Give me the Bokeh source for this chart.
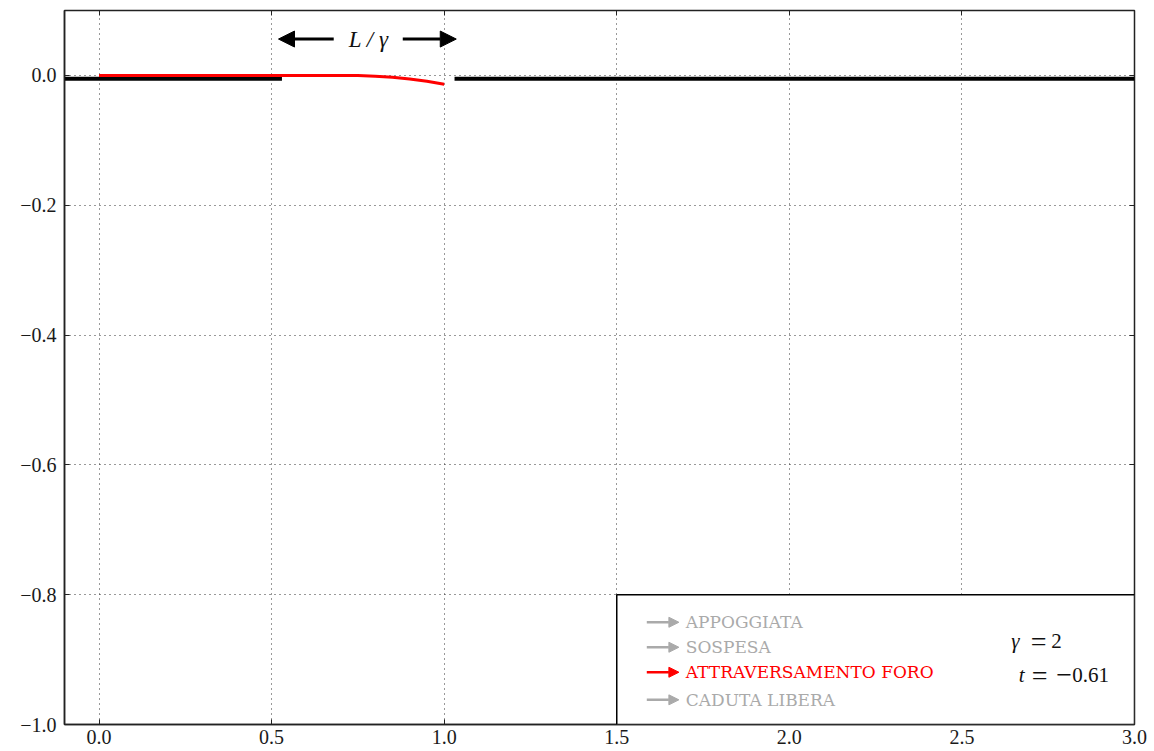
from bokeh.plotting import figure
from bokeh.models import (Range1d, LinearAxis, FixedTicker, Arrow, NormalHead,
                          BoxAnnotation, Label)
from bokeh.embed import file_html
from bokeh.resources import INLINE

# --- data -------------------------------------------------------------
# ground (black) segments either side of the hole
ground_left_x = [-0.1, 0.53]
ground_left_y = [-0.005, -0.005]
ground_right_x = [1.03, 3.0]
ground_right_y = [-0.005, -0.005]

# chain profile (red)
chain_x = [0.0, 0.5, 0.6, 0.7, 0.75, 0.8, 0.85, 0.9, 0.95, 1.0]
chain_y = [0.0, 0.0, 0.0, 0.0, -0.0003, -0.0013, -0.003, -0.0056, -0.009, -0.0135]

x_ticks = [0.0, 0.5, 1.0, 1.5, 2.0, 2.5, 3.0]
x_tick_labels = ["0.0", "0.5", "1.0", "1.5", "2.0", "2.5", "3.0"]
y_ticks = [0.0, -0.2, -0.4, -0.6, -0.8, -1.0]
y_tick_labels = ["0.0", "\u22120.2", "\u22120.4", "\u22120.6", "\u22120.8", "\u22121.0"]

phases = ["APPOGGIATA", "SOSPESA", "ATTRAVERSAMENTO FORO", "CADUTA LIBERA"]
active_phase = 2
gamma_value = 2
t_value = -0.61

FONT = "Liberation Serif"
WIDE_FONT = "DejaVu Serif"
INK = "#111111"

p = figure(width=1154, height=751, output_backend="svg", toolbar_location=None,
           x_range=Range1d(-0.1, 3.0), y_range=Range1d(-1.0, 0.1),
           min_border_left=64, min_border_right=20, min_border_top=10,
           min_border_bottom=27, background_fill_color="white",
           border_fill_color="white")

p.outline_line_color = "#222222"
p.outline_line_width = 1.5

for ax, ticks, labels in ((p.xaxis[0], x_ticks, x_tick_labels),
                          (p.yaxis[0], y_ticks, y_tick_labels)):
    ax.ticker = FixedTicker(ticks=ticks)
    ax.major_label_overrides = dict(zip(ticks, labels))
    ax.major_tick_in = 5
    ax.major_tick_out = 0
    ax.minor_tick_in = 0
    ax.minor_tick_out = 0
    ax.major_tick_line_color = "#222222"
    ax.axis_line_color = "#222222"
    ax.axis_line_width = 1.5
    ax.major_label_text_font = FONT
    ax.major_label_text_font_size = "20px"
    ax.major_label_text_color = "#1a1a1a"
p.xaxis[0].major_label_standoff = 5
p.yaxis[0].major_label_standoff = 8

# mirrored tick marks on top and right (no labels)
for side, ticks in (("above", x_ticks), ("right", y_ticks)):
    ax = LinearAxis(ticker=FixedTicker(ticks=ticks),
                    major_label_overrides={t: "" for t in ticks},
                    major_label_standoff=0,
                    major_tick_in=5, major_tick_out=0, minor_tick_in=0,
                    minor_tick_out=0, major_tick_line_color="#222222",
                    axis_line_color=None)
    p.add_layout(ax, side)

for g, ticks in ((p.xgrid[0], x_ticks), (p.ygrid[0], y_ticks)):
    g.ticker = FixedTicker(ticks=ticks)
    g.grid_line_color = "#333333"
    g.grid_line_dash = "1 4"
    g.grid_line_width = 1

# ground and chain
p.line(ground_left_x, ground_left_y, line_color="black", line_width=4)
p.line(ground_right_x, ground_right_y, line_color="black", line_width=4)
p.line(chain_x, chain_y, line_color="red", line_width=3)

# hole width marker
hole_y = 0.056
for xs, xe in ((0.68, 0.52), (0.88, 1.035)):
    p.add_layout(Arrow(x_start=xs, y_start=hole_y, x_end=xe, y_end=hole_y,
                       line_color="black", line_width=3,
                       end=NormalHead(size=16, fill_color="black",
                                      line_color="black", line_width=1)))
p.add_layout(Label(x=0.781, y=hole_y, text="L / \u03b3", text_font=FONT,
                   text_font_style="italic", text_font_size="23px",
                   text_align="center", text_baseline="middle",
                   text_color=INK))

# status box
p.add_layout(BoxAnnotation(left=1.5, right=3.0, top=-0.8, bottom=-1.0,
                           fill_color="white", fill_alpha=1.0,
                           line_color="black", line_alpha=1.0,
                           line_width=1.5, level="overlay"))

row_y = [-0.8425, -0.881, -0.9195, -0.962]
for i, (name, yy) in enumerate(zip(phases, row_y)):
    col = "red" if i == active_phase else "#aaaaaa"
    p.add_layout(Arrow(x_start=1.587, y_start=yy, x_end=1.68, y_end=yy,
                       line_color=col, line_width=2.5, level="overlay",
                       end=NormalHead(size=10, fill_color=col, line_color=col,
                                      line_width=1)))
    p.add_layout(Label(x=1.70, y=yy, text=name, text_font=WIDE_FONT,
                       text_font_size="17px", text_color=col,
                       text_baseline="middle", level="overlay"))

# parameter readout, set piece by piece like typeset maths
readout = [
    (2.655, -0.872, "\u03b3", "italic", "21px"),
    (2.722, -0.872, "=", "normal", "28px"),
    (2.774, -0.872, str(gamma_value), "normal", "21px"),
    (2.673, -0.924, "t", "italic", "21px"),
    (2.725, -0.924, "=", "normal", "28px"),
    (2.796, -0.924, "\u2212", "normal", "28px"),
    (2.873, -0.924, f"{abs(t_value):.2f}", "normal", "21px"),
]
for xx, yy, txt, style, size in readout:
    p.add_layout(Label(x=xx, y=yy, text=txt, text_font=FONT,
                       text_font_style=style, text_font_size=size,
                       text_align="center", text_baseline="alphabetic",
                       text_color=INK, level="overlay"))

open("out.html", "w").write(file_html(p, INLINE))
